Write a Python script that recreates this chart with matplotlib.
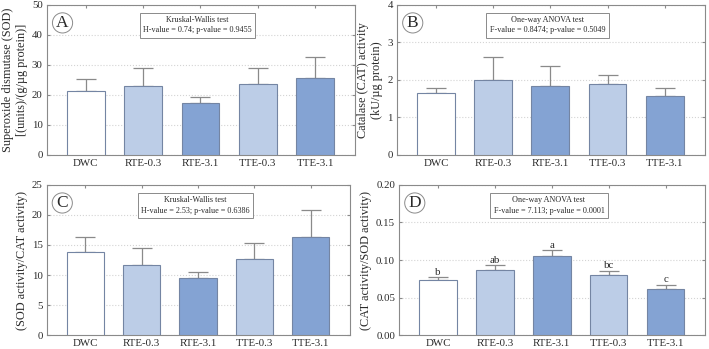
import matplotlib
matplotlib.use("Agg")
import matplotlib.pyplot as plt
import numpy as np

plt.rcParams['font.family'] = ['Liberation Serif', 'DejaVu Serif']

groups = ["DWC", "RTE-0.3", "RTE-3.1", "TTE-0.3", "TTE-3.1"]
colori = ["#ffffff", "#bccde7", "#84a3d3", "#bccde7", "#84a3d3"]

# A - SOD
sod = [21.4, 23.0, 17.3, 23.7, 25.7]
sod_err = [3.9, 6.0, 1.9, 5.2, 7.1]
# B - CAT
cat = [1.65, 2.00, 1.85, 1.88, 1.58]
cat_err = [0.14, 0.60, 0.52, 0.25, 0.21]
# C - SOD/CAT
sod_cat = [13.8, 11.6, 9.5, 12.6, 16.3]
sod_cat_err = [2.5, 2.9, 1.0, 2.7, 4.5]
# D - CAT/SOD
cat_sod = [0.073, 0.087, 0.105, 0.080, 0.061]
cat_sod_err = [0.004, 0.006, 0.008, 0.006, 0.006]
lettere_d = ["b", "ab", "a", "bc", "c"]

pannelli = [
    ("A", sod, sod_err, 50, 10, "Superoxide dismutase (SOD)\n[(units)/(g/µg protein)]",
     "Kruskal-Wallis test\nH-value = 0.74; p-value = 0.9455", "%d", None),
    ("B", cat, cat_err, 4, 1, "Catalase (CAT) activity\n(kU/µg protein)",
     "One-way ANOVA test\nF-value = 0.8474; p-value = 0.5049", "%d", None),
    ("C", sod_cat, sod_cat_err, 25, 5, "(SOD activity/CAT activity)",
     "Kruskal-Wallis test\nH-value = 2.53; p-value = 0.6386", "%d", None),
    ("D", cat_sod, cat_sod_err, 0.20, 0.05, "(CAT activity/SOD activity)",
     "One-way ANOVA test\nF-value = 7.113; p-value = 0.0001", "%.2f", lettere_d),
]

posizioni = [
    [0.066, 0.556, 0.435, 0.430],
    [0.560, 0.556, 0.434, 0.430],
    [0.066, 0.040, 0.428, 0.430],
    [0.563, 0.040, 0.432, 0.430],
]

grigio = "#8a8a8a"
testo_col = "#2a2a2a"
fig = plt.figure(figsize=(7.09, 3.49), dpi=100)
x = np.arange(len(groups))

for (lab, val, err, ymax, step, ylab, testo, fmt, lett), pos in zip(pannelli, posizioni):
    ax = fig.add_axes(pos)
    ax.bar(x, val, width=0.66, color=colori, edgecolor="#7485a3", linewidth=0.8, zorder=3)
    ax.errorbar(x, val, yerr=[np.zeros(len(val)), err], fmt="none", ecolor=grigio,
                elinewidth=0.9, capsize=7, capthick=0.9, zorder=2)
    ax.set_xlim(-0.68, 4.7)
    ax.set_ylim(0, ymax)
    yt = np.arange(0, ymax + step / 2, step)
    ax.set_yticks(yt)
    ax.set_yticklabels([fmt % v for v in yt])
    ax.set_xticks(x)
    ax.set_xticklabels(groups)
    ax.yaxis.grid(True, color="#d4d4d4", linestyle=":", linewidth=0.8, zorder=0)
    ax.set_axisbelow(True)
    for s in ax.spines.values():
        s.set_color(grigio)
        s.set_linewidth(0.8)
    ax.tick_params(direction="in", top=True, right=True, color=grigio,
                   labelsize=7.8, labelcolor=testo_col, length=2.5, pad=3)
    ax.set_ylabel(ylab, fontsize=8.8, color=testo_col, labelpad=3, linespacing=1.2)
    ax.text(0.489, 0.863, testo, transform=ax.transAxes, ha="center", va="center",
            fontsize=5.9, color=testo_col, linespacing=1.35,
            bbox=dict(boxstyle="square,pad=0.4", fc="white", ec=grigio, lw=0.7))
    ax.text(0.051, 0.88, lab, transform=ax.transAxes, ha="center", va="center",
            fontsize=12.5, color=testo_col,
            bbox=dict(boxstyle="circle,pad=0.12", fc="white", ec=grigio, lw=0.7))
    if lett:
        for xi, v, e, t in zip(x, val, err, lett):
            ax.text(xi, v + e + ymax * 0.003, t, ha="center", va="bottom",
                    fontsize=7.8, color=testo_col)

fig.savefig("out.png", dpi=100)
